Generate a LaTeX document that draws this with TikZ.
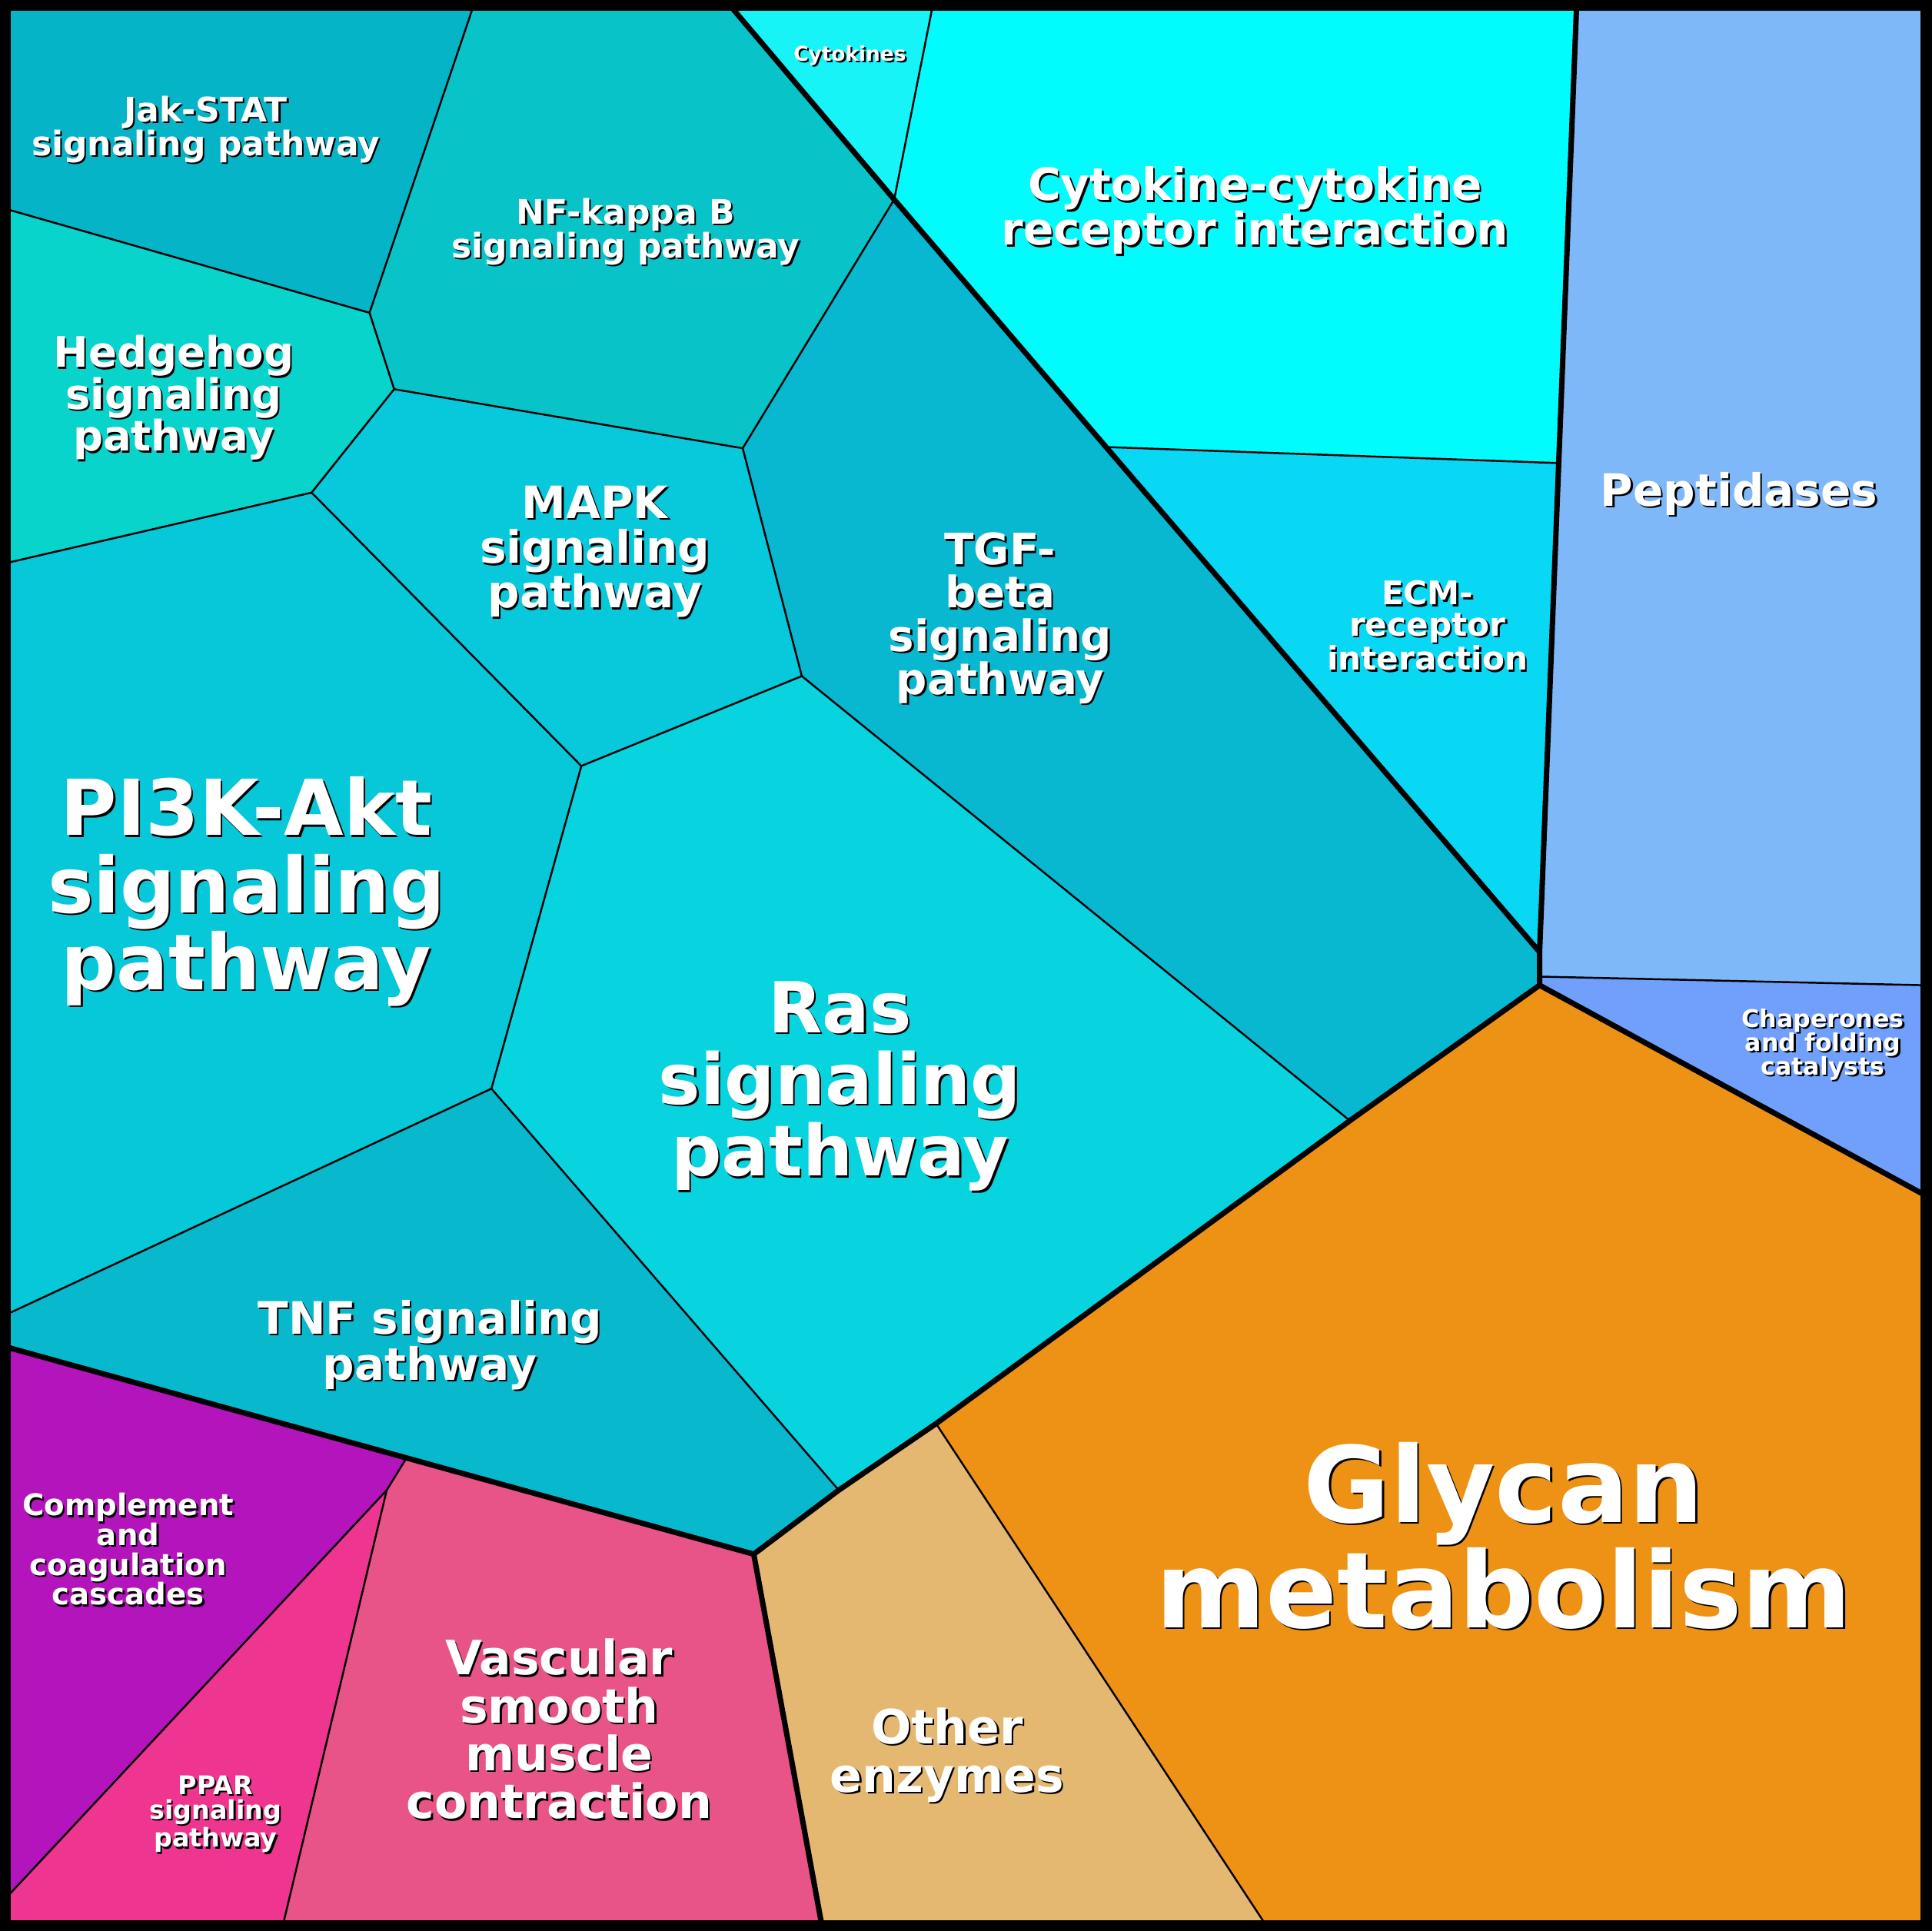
\documentclass[tikz,border=0pt]{standalone}
\usepackage{fontspec}
\setmainfont{DejaVu Sans}
\usetikzlibrary{calc}
\begin{document}
\begin{tikzpicture}[x=0.016cm,y=-0.016cm,
  thin/.style={draw=black,line width=0.7pt},
  thick/.style={draw=black,line width=2pt},
  lb/.style={align=center,inner sep=0pt}]
\def\L#1#2#3#4{\node[lb,text=black,font={\fontsize{#2}{#3}\selectfont\bfseries}] at ($(#1)+(1.5,1.5)$) {#4};
  \node[lb,text=white,font={\fontsize{#2}{#3}\selectfont\bfseries}] at (#1) {#4};}
\useasboundingbox (0,0) rectangle (1568,1568);
\definecolor{cJak}{HTML}{06B4C8}\definecolor{cNF}{HTML}{08C4C8}\definecolor{cHh}{HTML}{08D4CC}
\definecolor{cMAPK}{HTML}{08C8DC}\definecolor{cPI}{HTML}{06C8D8}\definecolor{cTGF}{HTML}{08B8D0}
\definecolor{cRas}{HTML}{08D4E0}\definecolor{cTNF}{HTML}{08B8CC}\definecolor{cCyt}{HTML}{16F4F8}
\definecolor{cCC}{HTML}{00FCFC}\definecolor{cECM}{HTML}{08D8F4}\definecolor{cPep}{HTML}{7EB8F8}
\definecolor{cChap}{HTML}{70A0FC}\definecolor{cGly}{HTML}{EE9215}\definecolor{cOth}{HTML}{E4B870}
\definecolor{cVas}{HTML}{E85488}\definecolor{cPPAR}{HTML}{EE3690}\definecolor{cComp}{HTML}{B414BC}
\coordinate (A) at (384,6);\coordinate (B) at (300,254);\coordinate (C) at (6,170);
\coordinate (D) at (320,316);\coordinate (E) at (253,400);\coordinate (F) at (6,457);
\coordinate (G) at (603,364);\coordinate (H) at (726,162);\coordinate (I) at (594,6);
\coordinate (J) at (651,549);\coordinate (K) at (472,622);\coordinate (L) at (399,884);
\coordinate (M) at (6,1067);\coordinate (N) at (1096,910);\coordinate (O) at (681,1210);
\coordinate (Q) at (898,363);\coordinate (R) at (1250,773);\coordinate (S) at (1250,800);
\coordinate (T) at (760,1156);\coordinate (P) at (612,1262);\coordinate (U) at (6,1094);
\coordinate (V) at (667,1562);\coordinate (W) at (1562,970);\coordinate (X) at (1280,6);
\coordinate (Y) at (1250,793);\coordinate (Z) at (1562,800);\coordinate (cy) at (757,6);
\coordinate (ecm) at (1265,376);\coordinate (g1) at (1027,1562);\coordinate (c1) at (330,1184);
\coordinate (c2) at (314,1210);\coordinate (c3) at (6,1540);\coordinate (c4) at (230,1562);
\coordinate (TL) at (6,6);\coordinate (TR) at (1562,6);\coordinate (BR) at (1562,1562);\coordinate (BL) at (6,1562);
% fills
\fill[cJak] (TL)--(A)--(B)--(C)--cycle;
\fill[cNF] (A)--(I)--(H)--(G)--(D)--(B)--cycle;
\fill[cHh] (C)--(B)--(D)--(E)--(F)--cycle;
\fill[cMAPK] (D)--(G)--(J)--(K)--(E)--cycle;
\fill[cPI] (F)--(E)--(K)--(L)--(M)--cycle;
\fill[cTGF] (H)--(Q)--(R)--(S)--(N)--(J)--(G)--cycle;
\fill[cRas] (K)--(J)--(N)--(T)--(O)--(L)--cycle;
\fill[cTNF] (M)--(L)--(O)--(P)--(U)--cycle;
\fill[cCyt] (I)--(cy)--(H)--cycle;
\fill[cCC] (cy)--(X)--(ecm)--(Q)--(H)--cycle;
\fill[cECM] (Q)--(ecm)--(R)--cycle;
\fill[cPep] (X)--(TR)--(Z)--(Y)--cycle;
\fill[cChap] (Y)--(Z)--(W)--(S)--(R)--cycle;
\fill[cGly] (S)--(W)--(BR)--(g1)--(T)--(N)--cycle;
\fill[cOth] (T)--(g1)--(V)--(P)--(O)--cycle;
\fill[cVas] (c1)--(P)--(V)--(c4)--(c2)--cycle;
\fill[cPPAR] (c2)--(c4)--(BL)--(c3)--cycle;
\fill[cComp] (U)--(c1)--(c2)--(c3)--cycle;
% thin lines
\draw[thin] (A)--(B)--(C) (B)--(D)--(E)--(F) (D)--(G)--(H) (G)--(J)--(K)--(E)
 (K)--(L)--(M) (J)--(N) (L)--(O) (cy)--(H) (Q)--(ecm) (Y)--(Z) (T)--(g1)
 (c1)--(c2)--(c3) (c2)--(c4);
% thick lines
\draw[thick,line join=round] (I)--(H)--(Q)--(R)--(S)--(N)--(T)--(O)--(P)--(U);
\draw[thick] (P)--(V) (X)--(R) (S)--(W);
\draw[line width=5pt] (3,3) rectangle (1565,1565);
% labels
\L{167,105}{12.5}{12.5}{Jak-STAT\\signaling pathway}
\L{508,188}{12.5}{12.5}{NF-kappa B\\signaling pathway}
\L{141,323}{15.5}{15.5}{Hedgehog\\signaling\\pathway}
\L{483,448}{16.5}{16.5}{MAPK\\signaling\\pathway}
\L{200,724}{28.5}{28.5}{PI3K-Akt\\signaling\\pathway}
\L{812,502}{16}{16}{TGF-\\beta\\signaling\\pathway}
\L{682,882}{26}{26.5}{Ras\\signaling\\pathway}
\L{349,1092}{16.5}{17}{TNF signaling\\pathway}
\L{690,45}{7.5}{8}{Cytokines}
\L{1019,171}{16.5}{16.5}{Cytokine-cytokine\\receptor interaction}
\L{1159,508}{12}{11.5}{ECM-\\receptor\\interaction}
\L{1412,401}{16.5}{17}{Peptidases}
\L{1480,848}{9}{8.8}{Chaperones\\and folding\\catalysts}
\L{1221,1247}{39}{39}{Glycan\\metabolism}
\L{769,1425}{17.5}{18}{Other\\enzymes}
\L{454,1404}{17.5}{17.7}{Vascular\\smooth\\muscle\\contraction}
\L{175,1473}{9.5}{9.2}{PPAR\\signaling\\pathway}
\L{104,1258}{11}{11}{Complement\\and\\coagulation\\cascades}
\end{tikzpicture}
\end{document}
